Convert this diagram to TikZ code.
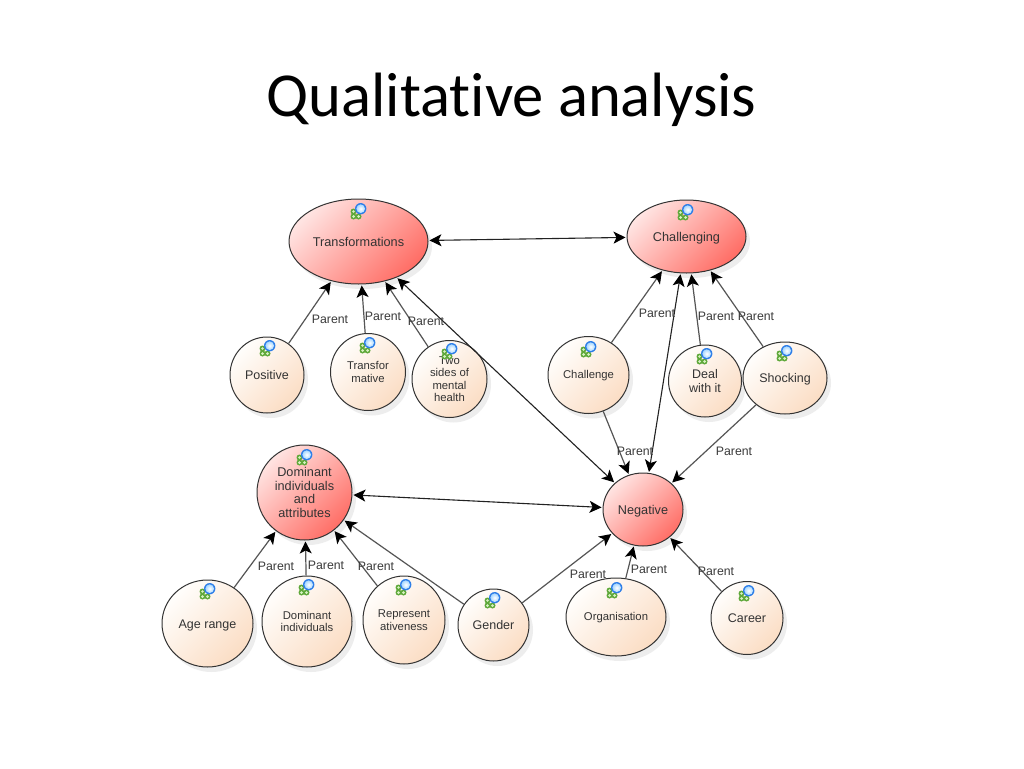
\documentclass[tikz,border=0pt]{standalone}
\usepackage{fontspec}
\setmainfont{Liberation Sans}
\newfontfamily\titlefont[Ligatures=NoCommon]{Carlito}
\usetikzlibrary{arrows.meta,shapes.geometric,shadows}
\definecolor{edgedark}{HTML}{222222}
\definecolor{edgegray}{HTML}{555555}
\definecolor{nodeline}{HTML}{333333}
\definecolor{labelgray}{HTML}{3A3A3A}
\definecolor{mainlight}{HTML}{FFE4E2}
\definecolor{maindark}{HTML}{FF6E66}
\definecolor{sublight}{HTML}{FFFEFC}
\definecolor{subdark}{HTML}{FBDDC4}
\definecolor{icongreen}{HTML}{5FA83A}
\definecolor{iconlight}{HTML}{D8F2C2}
\definecolor{iconblue}{HTML}{2F7FE8}
\definecolor{iconpale}{HTML}{A8D8FF}
\tikzset{
  x=1pt,y=-1pt,
  base/.style={ellipse,draw=nodeline,line width=1pt,inner sep=0pt,align=center,text=black!80,
    minimum width=#1},
  mainnode/.style={base=#1,top color=mainlight,bottom color=maindark,shading angle=45,
    drop shadow={opacity=.14,shadow xshift=4pt,shadow yshift=-5pt},font=\fontsize{12.7}{13.5}\selectfont},
  subnode/.style={base=#1,top color=sublight,bottom color=subdark,shading angle=45,
    drop shadow={opacity=.14,shadow xshift=4pt,shadow yshift=-5pt},font=\fontsize{12.5}{13.5}\selectfont},
  smalltext/.style={font=\fontsize{11.3}{12.5}\selectfont},
  oneline/.style={text height=11pt,text depth=1.5pt},
  onesmall/.style={text height=9.5pt,text depth=2pt},
  parentedge/.style={draw=edgegray,line width=1.2pt,-{Stealth[length=12pt,width=12pt,inset=3pt,color=black]},shorten >=1pt},
  linkedge/.style={draw=edgedark,line width=1.1pt,{Stealth[length=12pt,width=12pt,inset=3pt,color=black]}-{Stealth[length=12pt,width=12pt,inset=3pt,color=black]},shorten >=1pt,shorten <=1pt},
  parentlabel/.style={font=\fontsize{12.3}{13}\selectfont,text=labelgray,inner sep=0pt},
}
\newcommand{\nodeicon}[2]{%
  \begin{scope}[shift={(#1,#2)}]
    \fill[icongreen] (-5.5,0.5) circle (3);
    \fill[icongreen] (-5.5,5.5) circle (3);
    \fill[icongreen] (-0.5,5.5) circle (3);
    \fill[iconlight] (-5.5,5.5) circle (1.5);
    \fill[iconlight] (-0.5,5.5) circle (1.5);
    \fill[iconlight] (-5.5,0.5) circle (1.3);
    \fill[iconblue] (1.7,-2.3) circle (5.7);
    \shade[inner color=white,outer color=iconpale] (1.7,-2.3) circle (4.3);
  \end{scope}}
\begin{document}
\begin{tikzpicture}
\useasboundingbox (0,0) rectangle (1024,768);
\fill[white] (0,0) rectangle (1024,768);
\node[font=\titlefont\fontsize{62.6}{66}\selectfont,text=black,inner sep=0pt,anchor=base] (title) at (511.5,116) {Qualitative analysis};

\node[mainnode=139pt,minimum height=85pt,oneline] (trans) at (358.5,241.5) {Transformations};
\node[mainnode=119pt,minimum height=73pt,oneline] (chal) at (686.5,236.5) {Challenging};
\node[mainnode=95pt,minimum height=95pt] (dom) at (304.5,492.5) {Dominant\\individuals\\and\\attributes};
\node[mainnode=80pt,minimum height=73pt,oneline] (neg) at (643,509.5) {Negative};

\node[subnode=74pt,minimum height=76pt,oneline] (pos) at (267,375) {Positive};
\node[subnode=75pt,minimum height=77pt,smalltext] (tfm) at (368,372) {Transfor\\mative};
\node[subnode=75pt,minimum height=77pt,smalltext] (two) at (449.5,379) {Two\\sides of\\mental\\health};
\node[subnode=81pt,minimum height=77pt,smalltext,onesmall] (chg) at (588.5,375) {Challenge};
\node[subnode=73pt,minimum height=72pt] (deal) at (705,381) {Deal\\with it};
\node[subnode=84pt,minimum height=72pt,oneline] (shock) at (785,378) {Shocking};
\node[subnode=91pt,minimum height=87pt,oneline] (age) at (207.5,623.5) {Age range};
\node[subnode=90pt,minimum height=91pt,smalltext] (domi) at (307,621.5) {Dominant\\individuals};
\node[subnode=82pt,minimum height=88pt,smalltext] (rep) at (404,620) {Represent\\ativeness};
\node[subnode=71pt,minimum height=72pt,oneline] (gen) at (493.5,625) {Gender};
\node[subnode=100pt,minimum height=78pt,smalltext,onesmall] (org) at (616,617) {Organisation};
\node[subnode=72pt,minimum height=73pt,oneline] (car) at (747,618) {Career};

\draw[linkedge] (trans) -- (chal);
\draw[linkedge] (trans) -- (neg);
\draw[linkedge] (chal) -- (neg);
\draw[linkedge] (dom) -- (neg);
\draw[parentedge] (pos) -- (trans);
\draw[parentedge] (tfm) -- (trans);
\draw[parentedge] (two) -- (trans);
\draw[parentedge] (chg) -- (chal);
\draw[parentedge] (deal) -- (chal);
\draw[parentedge] (shock) -- (chal);
\draw[parentedge] (chg) -- (neg);
\draw[parentedge] (shock) -- (neg);
\draw[parentedge] (age) -- (dom);
\draw[parentedge] (domi) -- (dom);
\draw[parentedge] (rep) -- (dom);
\draw[parentedge] (gen) -- (dom);
\draw[parentedge] (gen) -- (neg);
\draw[parentedge] (org) -- (neg);
\draw[parentedge] (car) -- (neg);

\nodeicon{359}{211}
\nodeicon{686}{212}
\nodeicon{268}{348}
\nodeicon{368}{345}
\nodeicon{450}{351}
\nodeicon{589}{349}
\nodeicon{705}{356}
\nodeicon{785}{353}
\nodeicon{305}{457}
\nodeicon{208}{591}
\nodeicon{307}{587}
\nodeicon{404}{587}
\nodeicon{493}{600}
\nodeicon{615}{590}
\nodeicon{747}{593}

\node[parentlabel] (l1) at (330,319) {Parent};
\node[parentlabel] (l2) at (383,316) {Parent};
\node[parentlabel] (l3) at (426,321) {Parent};
\node[parentlabel] (l4) at (657,313) {Parent};
\node[parentlabel] (l5) at (716,316) {Parent};
\node[parentlabel] (l6) at (756,316) {Parent};
\node[parentlabel] (l7) at (635,451) {Parent};
\node[parentlabel] (l8) at (734,451) {Parent};
\node[parentlabel] (l9) at (276,566) {Parent};
\node[parentlabel] (l10) at (326,565) {Parent};
\node[parentlabel] (l11) at (376,566) {Parent};
\node[parentlabel] (l12) at (588,574) {Parent};
\node[parentlabel] (l13) at (649,569) {Parent};
\node[parentlabel] (l14) at (716,571) {Parent};
\end{tikzpicture}
\end{document}
